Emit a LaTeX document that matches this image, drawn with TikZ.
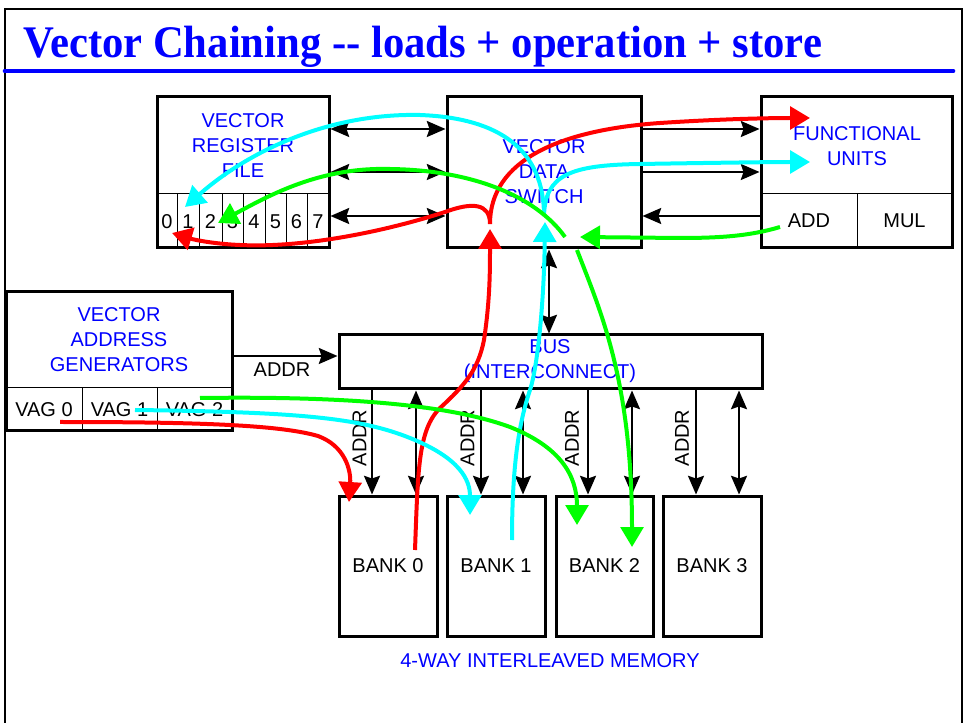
\documentclass[tikz,border=0pt]{standalone}
\usepackage{fontspec}
\usepackage{graphicx}
\usetikzlibrary{arrows.meta}
\newfontfamily\titlefont{Liberation Serif}
\newfontfamily\labfont{Liberation Sans}
\definecolor{pureblue}{RGB}{0,0,255}
\definecolor{cred}{RGB}{255,0,0}
\definecolor{ccyan}{RGB}{0,255,255}
\definecolor{cgreen}{RGB}{0,255,0}
\begin{document}
\begin{tikzpicture}[x=0.75pt,y=-0.75pt,
  bx/.style 2 args={draw, line width=2.25pt, inner sep=0pt, minimum width=#1*0.75pt, minimum height=#2*0.75pt},
  lab/.style={font=\labfont\fontsize{15}{18.75}\selectfont, text=pureblue, align=center, inner sep=0pt},
  blk/.style={font=\labfont\fontsize{15}{18}\selectfont, text=black, inner sep=0pt},
  divider/.style={line width=0.75pt},
  arr/.style={line width=1.6pt, -{Stealth[length=14pt,width=12pt,inset=2pt]}},
  darr/.style={line width=1.6pt, {Stealth[length=14pt,width=12pt,inset=2pt]}-{Stealth[length=14pt,width=12pt,inset=2pt]}},
  flow/.style={line width=3pt, -{Triangle[length=15pt,width=17pt]}},
]
\useasboundingbox (0,0) rectangle (964,723);
\clip (0,0) rectangle (964,723);

% frame and title
\draw[line width=1.5pt] (5,740) -- (5,9) -- (962,9) -- (962,740);
\draw[pureblue, line width=3.5pt, line cap=round] (5,71) -- (953,71);
\node[anchor=base west, inner sep=0pt, text=pureblue, font=\titlefont\bfseries\fontsize{32}{38}\selectfont] (title) at (23,58) {\scalebox{1}[1.06]{Vector Chaining -{}- loads + operation + store}};

% boxes
\node[bx={172}{151}] (rf) at (243,172.5) {};
\node[bx={194}{151}] (sw) at (544,172.5) {};
\node[bx={191}{151}] (fu) at (856.5,172.5) {};
\node[bx={226}{139}] (vag) at (119,361.5) {};
\node[bx={423}{54}] (bus) at (550.5,362) {};
\node[bx={98}{140}, blk] (b0) at (388,566) {BANK 0};
\node[bx={98}{140}, blk] (b1) at (496,566) {BANK 1};
\node[bx={97}{140}, blk] (b2) at (604.5,566) {BANK 2};
\node[bx={98}{140}, blk] (b3) at (712,566) {BANK 3};

% register file cells
\draw[divider] (157,194) -- (329,194);
\foreach \x in {177,199,222,243,265,286,307} \draw[divider] (\x,194) -- (\x,248);
\foreach \x/\d in {167/0,188/1,210.5/2,232.5/3,254/4,275.5/5,296.5/6,318/7}
  \node[blk] (r\d) at (\x,222) {\d};

% functional units cells
\draw[divider] (761,194) -- (952,194);
\draw[divider] (857,194) -- (857,248);
\node[blk] (add) at (809,221) {ADD};
\node[blk] (mul) at (904.5,221) {MUL};

% VAG cells
\draw[divider] (6,388) -- (232,388);
\draw[divider] (82,388) -- (82,431);
\draw[divider] (157,388) -- (157,431);
\node[blk] (vag0) at (44,410) {VAG 0};
\node[blk] (vag1) at (119.5,410) {VAG 1};
\node[blk] (vag2) at (194.5,410) {VAG 2};

% labels
\node[lab] (rftxt) at (243,146) {VECTOR\\REGISTER\\FILE};
\node[lab] (swtxt) at (544,172) {VECTOR\\DATA\\SWITCH};
\node[lab] (futxt) at (857,146) {FUNCTIONAL\\UNITS};
\node[lab] (vagtxt) at (119,340) {VECTOR\\ADDRESS\\GENERATORS};
\node[lab] (bustxt) at (550,361.5) {BUS\\(INTERCONNECT)};
\node[lab] (mem) at (550,661) {4-WAY INTERLEAVED MEMORY};

% black connectors
\coordinate (ya) at (0,129);
\coordinate (yb) at (0,172);
\coordinate (yc) at (0,216);
\draw[darr] (rf.east |- ya) -- (sw.west |- ya);
\draw[darr] (rf.east |- yb) -- (sw.west |- yb);
\draw[darr] (rf.east |- yc) -- (sw.west |- yc);
\draw[arr] (sw.east |- ya) -- (fu.west |- ya);
\draw[arr] (sw.east |- yb) -- (fu.west |- yb);
\draw[arr] (fu.west |- yc) -- (sw.east |- yc);
\coordinate (yv) at (0,356);
\draw[arr] (vag.east |- yv) -- (bus.west |- yv);
\node[blk] (addrv) at (282,370) {ADDR};
\coordinate (xs) at (549,0);
\draw[darr] (sw.south -| xs) -- (bus.north -| xs);
\foreach \bk/\xa/\xd/\xl in {b0/372/416/359.5, b1/481/523/467.5, b2/588/632/572, b3/696/739/682} {
  \coordinate (xa\bk) at (\xa,0);
  \coordinate (xd\bk) at (\xd,0);
  \draw[arr] (bus.south -| xa\bk) -- (\bk.north -| xa\bk);
  \draw[darr] (bus.south -| xd\bk) -- (\bk.north -| xd\bk);
  \node[blk, rotate=90] (addr\bk) at (\xl,438) {ADDR};
}

% coloured flows
\coordinate (rs) at (60,422);
\coordinate (re) at (349,502);
\coordinate (rb) at (415,550);
\coordinate (rt) at (490,229);
\coordinate (rsp) at (490,224);
\coordinate (rr) at (172,233);
\coordinate (rf2) at (810,118);
\draw[flow, cred] (rs) .. controls (200,422) and (280,425) .. (318,436) .. controls (345,446) and (351,470) .. (re);
\draw[flow, cred] (rb) .. controls (418,470) and (418,430) .. (440,408) .. controls (465,385) and (478,370) .. (484,340) .. controls (490,300) and (490,270) .. (rt);
\draw[flow, cred] (rsp) .. controls (490,203) and (472,202) .. (445,212) .. controls (380,233) and (300,248) .. (240,245) .. controls (215,244) and (195,240) .. (rr);
\draw[flow, cred] (rsp) .. controls (490,160) and (560,130) .. (660,123) .. controls (720,119) and (770,118) .. (rf2);

\coordinate (cs) at (135,410);
\coordinate (ce) at (470,515);
\coordinate (cb) at (512,540);
\coordinate (ct) at (545,222);
\coordinate (csp) at (544,216);
\coordinate (cr) at (185,207);
\coordinate (cf) at (810,162);
\draw[flow, ccyan] (cs) .. controls (300,412) and (360,418) .. (410,438) .. controls (460,458) and (470,480) .. (ce);
\draw[flow, ccyan] (cb) .. controls (512,460) and (520,420) .. (530,390) .. controls (538,365) and (544,300) .. (ct);
\draw[flow, ccyan] (csp) .. controls (544,150) and (500,118) .. (420,115) .. controls (330,113) and (250,150) .. (cr);
\draw[flow, ccyan] (csp) .. controls (545,175) and (570,165) .. (640,164) .. controls (700,163) and (770,162) .. (cf);

\coordinate (gs) at (200,398);
\coordinate (ge) at (577,525);
\coordinate (gsw) at (577,250);
\coordinate (gb) at (632,547);
\coordinate (ga) at (780,227);
\coordinate (gt) at (580,237);
\coordinate (gst) at (565,237);
\coordinate (gr) at (218,223);
\draw[flow, cgreen] (gs) .. controls (350,396) and (450,405) .. (510,427) .. controls (560,447) and (577,475) .. (ge);
\draw[flow, cgreen] (gsw) .. controls (600,310) and (632,380) .. (gb);
\draw[flow, cgreen] (ga) .. controls (750,236) and (720,238) .. (680,238) -- (gt);
\draw[flow, cgreen] (gst) .. controls (535,195) and (470,170) .. (390,169) .. controls (320,167) and (270,195) .. (gr);
\end{tikzpicture}
\end{document}
